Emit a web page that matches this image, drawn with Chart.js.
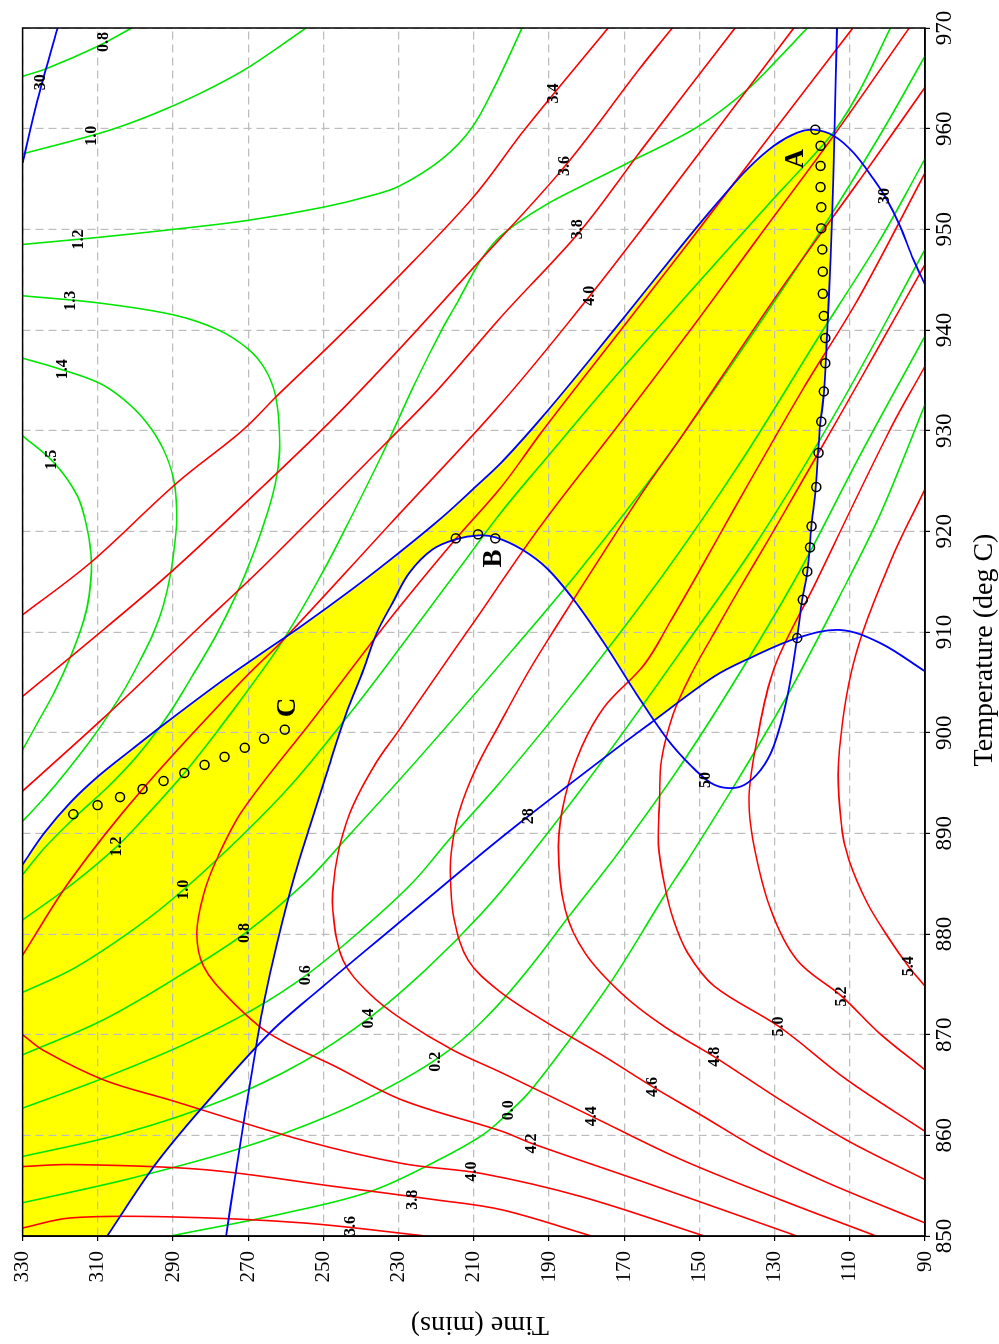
<!DOCTYPE html>
<html>
<head>
<meta charset="utf-8">
<script src="https://cdn.jsdelivr.net/npm/chart.js@4/dist/chart.umd.min.js"></script>
<style>
  html, body { margin: 0; padding: 0; background: #fff; width: 999px; height: 1344px; overflow: hidden; }
  /* the plot is laid out landscape and turned a quarter turn to stand upright */
  #wrap { position: absolute; left: 0; top: 0; width: 1344px; height: 999px;
          transform-origin: 0 0; transform: translateY(1344px) rotate(-90deg); }
  canvas { display: block; }
</style>
</head>
<body>
<div id="wrap"><canvas id="c" width="1344" height="999"></canvas></div>
<script>
// ---- axes ---------------------------------------------------------------
const tempTicks = [850, 860, 870, 880, 890, 900, 910, 920, 930, 940, 950, 960, 970];
const timeTicks = [90, 110, 130, 150, 170, 190, 210, 230, 250, 270, 290, 310, 330];

// ---- red contours, points are [temperature (deg C), time (mins)] --------
const red34 = [[911.7,330],[916.9,311.9],[924.8,289.0],[930.1,271.3],[933.4,262.5],[939.1,246.6],[945.4,229.8],[953.3,209.9],[960.0,196.3],[970,174.3]];
const red36a = [[903.6,330],[909.3,311.5],[915.9,290.7],[924.5,266.0],[931.5,246.6],[938.1,229.8],[946.4,209.6],[956.3,185.7],[966.2,165.4],[970,157.2]];
const red38a = [[894.2,330],[901.8,307.5],[911.2,281.0],[916.5,266.0],[927.1,237.8],[933.8,220.2],[941.4,202.5],[950.0,181.3],[957.9,165.4],[970,140.5]];
const red40a = [[877.9,330],[885.4,317.2],[894.4,298.1],[905.3,271.3],[909.2,260.7],[921.0,231.6],[932.8,202.5],[943.4,179.1],[950.0,165.4],[970,124.9]];
const red36b = [[850.8,330],[851.8,317.2],[851.9,290.7],[851.3,255.4],[850,222.8]];
const red38b = [[856.9,330],[857.1,317.2],[856.6,281.9],[854.9,246.6],[853.6,220.2],[852.6,202.5],[850,178.7]];
const red40b = [[870.0,330],[868.4,324.3],[865.5,308.4],[863.5,290.7],[859.5,255.4],[857.2,229.0],[856.2,207.8],[853.9,181.3],[850,148.7]];
const red42 = [[970,109.2],[959.4,131.0],[949.0,152.2],[940.1,170.7],[930.1,191.5],[924.5,202.5],[919.2,214.9],[911.2,232.5],[901.3,252.8],[892.4,271.3],[887.4,278.4],[883.9,281.9],[880.1,283.7],[876.8,281.9],[873.5,274.8],[870.1,264.3],[866.8,246.6],[863.5,229.0],[860.4,202.5],[859.2,194.6],[855.1,162.8],[850,124.1]];
const red44 = [[970,94.2],[959.3,114.3],[949.5,133.7],[940.1,152.2],[930.1,172.5],[920.7,191.9],[911.2,209.6],[904.6,221.9],[900.3,229.8],[897.0,236.0],[892.7,242.2],[888.7,245.7],[885.4,247.2],[882.4,247.5],[877.4,244.8],[874.1,237.8],[871.5,229.0],[868.5,215.7],[866.2,202.5],[861.9,178.7],[857.6,154.9],[853.6,128.4],[850,103.0]];
const red46 = [[964.1,90],[955.0,107.2],[944.0,128.4],[930.1,153.5],[924.0,164.9],[917.6,176.0],[911.4,186.6],[906.3,195.1],[901.3,202.5],[896.3,209.6],[892.0,214.0],[888.1,216.0],[885.4,216.2],[881.4,215.2],[877.4,211.5],[874.5,203.8],[871.5,191.9],[868.0,176.0],[864.8,162.3],[862.0,149.5],[858.5,133.7],[855.6,117.8],[853.1,101.9],[851.3,90]];
const red48 = [[955.6,90],[943.0,107.9],[934.6,121.7],[928.1,131.8],[922.2,140.8],[916.4,149.5],[911.2,157.5],[906.8,164.6],[902.6,175.2],[898.6,181.3],[893.7,185.7],[888.7,187.5],[882.4,185.7],[878.1,180.4],[874.1,170.7],[870.8,159.3],[867.8,146.0],[863.5,128.4],[859.5,110.7],[855.6,90]];
const red50 = [[946.5,90],[938.6,101.9],[931.6,112.5],[924.7,123.1],[919.2,131.6],[914.2,139.5],[909.7,146.4],[905.8,152.2],[901.8,157.0],[897.3,160.1],[893.3,160.6],[888.9,160.9],[884.9,159.3],[881.4,156.9],[878.1,153.1],[874.8,146.0],[870.8,128.8],[865.5,110.7],[860.4,90]];
const red52 = [[936.4,90],[930.1,99.3],[914.5,119.6],[906.3,130.2],[898.6,135.0],[893.7,136.8],[889.4,135.8],[882.5,131.1],[877.4,124.0],[873.8,112.1],[870.1,102.0],[866.5,90]];
const red54 = [[924.2,90],[916.9,99.3],[906.9,109.0],[897.0,113.0],[890.4,112.1],[887.4,110.3],[883.1,105.4],[879.4,99.3],[876.8,94.4],[874.8,90]];

// ---- green contours ------------------------------------------------------
const green15 = [[929.5,330],[926.8,321.6],[923.5,315.4],[920.2,312.8],[916.9,311.7],[913.6,312.3],[911.2,313.7],[907.6,317.2],[904.0,321.6],[901.0,326.0],[898.3,330]];
const green14 = [[937.2,330],[936.3,321.6],[934.8,310.0],[933.1,303.1],[930.8,297.0],[928.1,292.5],[925.1,289.8],[921.9,289.0],[919.2,289.4],[915.9,290.6],[912.7,292.5],[910.0,295.1],[907.3,298.6],[904.5,302.6],[901.7,307.3],[898.9,312.6],[896.1,318.4],[893.5,324.3],[891.2,330]];
const green13 = [[943.4,330],[942.7,310.0],[941.5,289.8],[940.0,277.9],[938.1,270.0],[936.1,265.5],[933.6,262.8],[930.6,261.8],[927.6,261.7],[924.7,262.8],[921.7,265.0],[917.7,268.7],[913.7,273.2],[909.7,278.5],[905.8,284.6],[901.8,291.2],[898.1,298.6],[894.8,306.8],[891.8,315.5],[888.5,324.3],[885.9,330]];
const green12a = [[948.5,330],[949.2,309.9],[950.0,289.8],[950.9,269.9],[952.2,250.0],[953.3,237.8],[954.3,229.8],[957.0,218.4],[960.1,210.5],[964.3,204.3],[970,197.2]];
const green10a = [[957.5,330],[959.5,309.9],[960.8,299.6],[962.3,289.8],[964.0,280.1],[966.1,269.9],[970,254.6]];
const green08a = [[965.2,330],[966.0,323.4],[968.2,309.9],[970,301.0]];
const green12b = [[881.4,330],[885.1,316.3],[888.7,304.9],[892.0,296.5],[895.9,287.2],[900.5,277.5],[903.6,271.3],[909.2,260.7],[916.0,250.1],[922.4,241.3],[928.4,233.4],[934.9,225.4],[940.1,218.4],[943.0,214.0],[946.6,208.7],[949.0,203.8],[950.6,198.5],[952.6,190.1],[954.3,181.3],[956.6,169.0],[960.2,150.4],[963.9,137.2],[967.2,128.4],[970,121.3]];
const green10b = [[874.2,330],[876.6,316.3],[880.7,299.6],[884.4,287.2],[889.9,271.3],[895.0,258.1],[901.0,244.9],[906.1,234.3],[911.4,223.7],[916.7,213.1],[922.0,202.5],[927.9,189.3],[936.1,170.7],[945.0,149.6],[952.7,131.1],[957.0,120.5],[959.9,113.8],[963.9,107.2],[970,99.2]];
const green08b = [[868.0,330],[871.5,308.4],[876.1,287.2],[880.1,270.8],[885.2,254.6],[889.1,244.9],[897.1,225.5],[907.0,202.5],[916.4,181.3],[926.6,160.2],[937.9,139.0],[949.8,117.8],[959.4,101.9],[967.2,90]];
const green06b = [[862.7,330],[865.7,308.4],[869.0,287.2],[872.5,268.7],[875.9,254.6],[880.5,239.6],[885.1,226.3],[889.4,216.5],[895.3,202.5],[905.0,181.3],[915.4,160.2],[926.9,139.0],[939.6,117.8],[949.0,101.9],[957.0,90]];
const green04b = [[857.9,330],[860.2,303.1],[863.5,276.6],[867.3,255.4],[871.7,237.7],[876.6,222.4],[882.1,207.8],[887.4,195.9],[897.1,176.0],[908.1,154.9],[919.5,133.7],[932.6,112.5],[948.0,90]];
const green02b = [[853.3,330],[855.8,300.4],[858.8,271.3],[862.1,247.5],[865.5,229.0],[868.7,215.7],[872.3,205.2],[876.9,194.6],[882.1,184.0],[887.4,172.9],[896.8,154.9],[906.1,139.0],[916.2,123.1],[927.6,107.2],[939.4,90]];
const green00b = [[850,290.7],[852.3,259.9],[854.4,237.7],[857.4,220.2],[860.0,207.8],[862.3,200.6],[864.4,195.0],[869.5,184.5],[875.6,172.9],[884.4,158.3],[887.4,153.0],[895.8,139.0],[904.3,125.7],[913.7,112.5],[921.7,101.9],[932.6,90]];

// ---- blue contours -------------------------------------------------------
const blue30 = [[886.9,330],[890.0,324.3],[893.1,317.2],[895.6,310.1],[898.5,300.4],[900.8,292.5],[905.0,277.5],[908.0,266.0],[910.7,255.4],[914.3,242.2],[917.9,229.8],[921.4,218.4],[924.3,209.9],[926.9,202.5],[932.1,190.1],[940.1,172.5],[948.3,154.9],[952.3,146.0],[956.0,137.2],[958.3,130.2],[959.6,124.0],[959.9,119.6],[959.3,114.3],[957.6,109.0],[955.0,103.7],[953.0,100.2],[950.3,96.6],[947.0,93.1],[944.5,90]];
const blue30corner = [[956.6,330],[962.9,326.0],[970,320.7]];
const blue50 = [[970,113.4],[959.2,114.1],[951.3,114.7],[943.0,115.6],[938.4,116.2],[933.7,116.9],[930.1,118.0],[924.3,119.1],[920.5,120.2],[916.0,121.3],[913.2,122.7],[909.4,124.0],[903.6,126.6],[898.7,130.2],[896.3,133.7],[894.8,138.1],[894.5,142.5],[895.0,146.9],[896.7,152.2],[899.3,158.4],[903.6,166.3],[908.3,174.3],[912.6,182.2],[916.2,190.2],[918.2,197.2],[919.4,204.2],[919.6,208.7],[919.2,214.9],[918.2,221.0],[915.9,227.1],[912.9,231.6],[909.9,235.8],[906.3,239.3],[901.8,244.0],[896.0,249.1],[890.7,253.6],[885.9,257.6],[879.1,262.3],[873.2,265.8],[868.8,267.9],[862.2,270.8],[855.9,273.5],[850,275.9]];
const blue28 = [[906.1,90],[908.9,101.9],[910.2,112.5],[909.4,124.0],[907.3,137.2],[905.6,146.0],[901.0,162.8],[898.3,172.5],[891.7,195.5],[887.8,208.5],[881.4,229.0],[874.8,250.1],[870.2,264.2],[862.9,281.9],[856.9,295.1],[850.0,307.5]];

// ---- experimental runs ---------------------------------------------------
const runsA = [[959.9,119.2],[958.3,117.8],[956.3,117.8],[954.2,117.8],[952.2,117.6],[950.1,117.6],[948.0,117.3],[945.8,117.2],[943.6,117.2],[941.4,116.9],[939.2,116.5],[936.7,116.5],[933.9,116.9],[930.9,117.6],[927.8,118.3],[924.4,118.9],[920.5,120.2],[918.4,120.6],[916.0,121.3],[913.2,122.5],[909.4,124.0]];
const runsB = [[919.3,214.8],[919.7,208.9],[919.3,204.3]];
const runsC = [[891.9,316.5],[892.8,310.1],[893.6,304.1],[894.4,298.1],[895.2,292.5],[896.0,287.0],[896.8,281.6],[897.6,276.3],[898.5,270.9],[899.4,265.8],[900.3,260.3]];

// ---- contour and region labels: [temperature, time, text] ---------------
const redLabels = [[963.5,188.8,'3.4'],[956.3,185.7,'3.6'],[950.0,182.2,'3.8'],[943.4,179.1,'4.0'],
  [851.0,242.7,'3.6'],[853.6,226.3,'3.8'],[856.4,210.4,'4.0'],[859.2,194.6,'4.2'],[861.9,178.7,'4.4'],
  [864.8,162.3,'4.6'],[867.8,146.0,'4.8'],[870.8,128.8,'5.0'],[873.8,112.0,'5.2'],[876.8,94.4,'5.4']];
const greenLabels = [[927.1,322.1,'1.5'],[936.1,319.4,'1.4'],[942.9,317.2,'1.3'],[949.0,315.0,'1.2'],
  [959.3,311.5,'1.0'],[968.6,308.4,'0.8'],[888.7,304.9,'1.2'],[884.4,287.2,'1.0'],[880.1,270.9,'0.8'],
  [875.9,254.6,'0.6'],[871.6,237.8,'0.4'],[867.3,220.2,'0.2'],[862.5,200.7,'0.0']];
const blueLabels = [[964.6,325.1,'30'],[953.3,100.6,'30'],[895.3,148.2,'50'],[891.7,195.4,'28']];
const regionLabels = [[957.0,124.2,'A'],[917.3,204.7,'B'],[902.5,259.4,'C']];

// ---- dataset helpers -----------------------------------------------------
const RED = '#ff0000', GREEN = '#00e600', BLUE = '#0000ff';
const xy = arr => arr.map(([T, t]) => ({ x: T, y: t }));
function curve(id, arr, color, width) {
  return { id, data: xy(arr), showLine: true, borderColor: color, borderWidth: width,
           pointRadius: 0, pointHoverRadius: 0, pointHitRadius: 0, tension: 0.35, fill: false };
}
function runs(id, arr) {
  return { id, data: xy(arr), showLine: false, pointRadius: 4.5, pointHoverRadius: 4.5,
           pointBorderWidth: 1.5, pointBorderColor: '#000', pointBackgroundColor: 'rgba(0,0,0,0)' };
}

const datasets = [
  runs('runsA', runsA), runs('runsB', runsB), runs('runsC', runsC),
  curve('blue30', blue30, BLUE, 1.8), curve('blue30corner', blue30corner, BLUE, 1.8),
  curve('blue50', blue50, BLUE, 1.8), curve('blue28', blue28, BLUE, 1.8),
  ...[red34, red36a, red38a, red40a, red36b, red38b, red40b, red42, red44, red46, red48, red50, red52, red54]
      .map((a, i) => curve('red' + i, a, RED, 1.6)),
  ...[green15, green14, green13, green12a, green10a, green08a, green12b, green10b, green08b, green06b, green04b, green02b, green00b]
      .map((a, i) => curve('green' + i, a, GREEN, 1.6))
];

// traces a drawn line (with its spline control points) into the current path
function traceLine(ctx, meta) {
  const pts = meta.data;
  for (let i = 0; i < pts.length; i++) {
    const p = pts[i];
    if (i === 0) { ctx.moveTo(p.x, p.y); continue; }
    const q = pts[i - 1];
    if (q.cp2x !== undefined && p.cp1x !== undefined) ctx.bezierCurveTo(q.cp2x, q.cp2y, p.cp1x, p.cp1y, p.x, p.y);
    else ctx.lineTo(p.x, p.y);
  }
}

// yellow feasible region: inside the 30 arc, beyond the 28 curve, outside the 50 curve
const feasibleRegion = {
  id: 'feasibleRegion',
  beforeDraw(chart) {
    const { ctx, chartArea: a, scales: { x, y } } = chart;
    const meta = id => chart.getDatasetMeta(chart.data.datasets.findIndex(d => d.id === id));
    const m30 = meta('blue30'), m50 = meta('blue50'), m28 = meta('blue28');
    [m30, m50, m28].forEach(m => m.dataset.updateControlPoints(a, 'x'));
    const to = (T, t) => ctx.lineTo(x.getPixelForValue(T), y.getPixelForValue(t));
    ctx.save();
    ctx.beginPath(); ctx.rect(a.left, a.top, a.width, a.height); ctx.clip();
    ctx.beginPath(); traceLine(ctx, m30); to(850, 90); to(850, 330); ctx.closePath(); ctx.clip();
    ctx.beginPath(); traceLine(ctx, m28); to(850, 330); to(970, 330); to(970, 90); ctx.closePath(); ctx.clip();
    ctx.beginPath(); ctx.rect(a.left - 20, a.top - 20, a.width + 40, a.height + 40);
    traceLine(ctx, m50); to(850, 90); to(970, 90); ctx.closePath(); ctx.clip('evenodd');
    ctx.fillStyle = '#ffff00';
    ctx.fillRect(a.left, a.top, a.width, a.height);
    ctx.restore();
  }
};

// contour values, region letters, frame and axis titles
const annotations = {
  id: 'annotations',
  afterDatasetsDraw(chart) {
    const { ctx, scales: { x, y } } = chart;
    ctx.save();
    ctx.fillStyle = '#000';
    ctx.textAlign = 'center';
    ctx.textBaseline = 'middle';
    ctx.font = 'bold 16px "Liberation Serif"';
    [...redLabels, ...greenLabels, ...blueLabels].forEach(([T, t, s]) =>
      ctx.fillText(s, x.getPixelForValue(T), y.getPixelForValue(t)));
    ctx.font = 'bold 27px "Liberation Serif"';
    regionLabels.forEach(([T, t, s]) => ctx.fillText(s, x.getPixelForValue(T), y.getPixelForValue(t)));
    ctx.restore();
  },
  afterDraw(chart) {
    const { ctx, chartArea: a } = chart;
    ctx.save();
    ctx.strokeStyle = '#000';
    ctx.lineWidth = 1.5;
    ctx.strokeRect(a.left, a.top, a.width, a.height);
    ctx.fillStyle = '#000';
    ctx.font = '28px "Liberation Serif"';
    ctx.textAlign = 'center';
    ctx.textBaseline = 'alphabetic';
    ctx.fillText('Temperature (deg C)', (a.left + a.right) / 2 - 18, 992);
    ctx.translate(27, (a.top + a.bottom) / 2 + 6);
    ctx.rotate(-Math.PI / 2);
    ctx.fillText('Time (mins)', 0, 0);
    ctx.restore();
  }
};

const tickFont = size => ({ family: 'Liberation Serif', size });

new Chart(document.getElementById('c'), {
  type: 'scatter',
  data: { datasets },
  options: {
    responsive: false,
    animation: false,
    devicePixelRatio: 1,
    events: [],
    layout: { padding: { top: 18, right: 28, left: 0, bottom: 0 } },
    plugins: { legend: { display: false }, tooltip: { enabled: false } },
    scales: {
      x: {
        type: 'linear', min: 850, max: 970,
        afterBuildTicks: s => { s.ticks = tempTicks.map(v => ({ value: v })); },
        afterFit: s => { s.height = 74; },
        grid: { color: '#bdbdbd', lineWidth: 1.2, tickLength: 5, tickColor: '#000', tickWidth: 1.2 },
        border: { color: '#000', width: 1.5, dash: [8, 5] },
        ticks: { color: '#000', font: tickFont(23), padding: 1, maxRotation: 0, autoSkip: false }
      },
      y: {
        type: 'linear', min: 90, max: 330,
        afterBuildTicks: s => { s.ticks = timeTicks.map(v => ({ value: v })); },
        afterFit: s => { s.width = 108; },
        grid: { color: '#bdbdbd', lineWidth: 1.2, tickLength: 5, tickColor: '#000', tickWidth: 1.2 },
        border: { color: '#000', width: 1.5, dash: [8, 5] },
        ticks: { color: '#000', font: tickFont(21), padding: 10, autoSkip: false }
      }
    }
  },
  plugins: [feasibleRegion, annotations]
});
</script>
</body>
</html>
